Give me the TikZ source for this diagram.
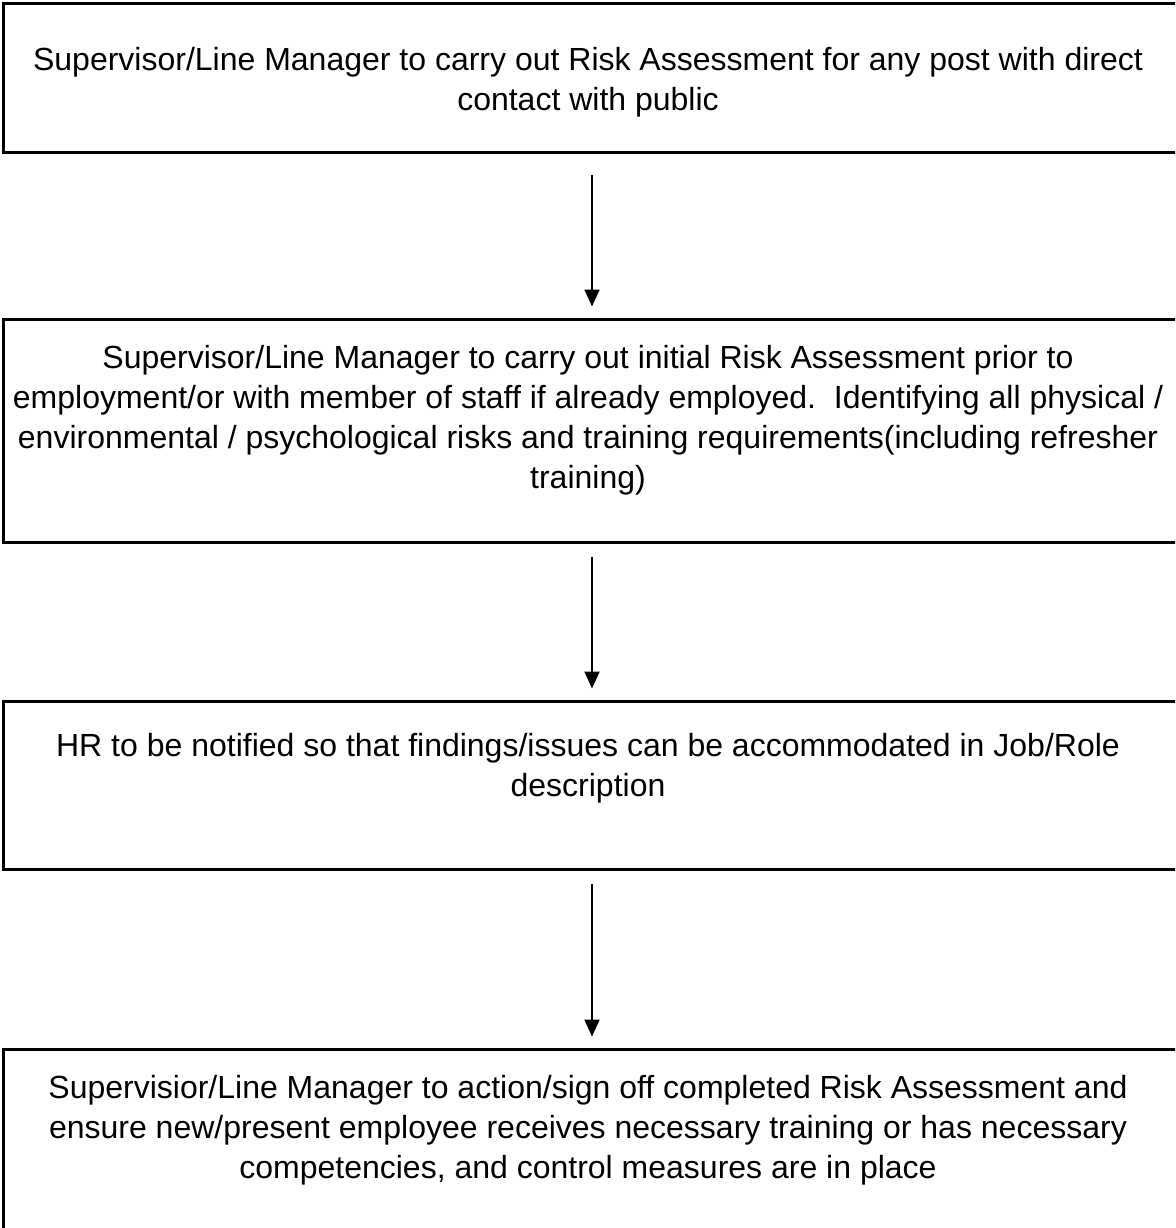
\documentclass[tikz,border=0pt]{standalone}
\usepackage{fontspec}
\setmainfont{Liberation Sans}
\usetikzlibrary{arrows.meta}
\tikzset{
  stepbox/.style={draw=black, line width=3pt, rectangle, inner sep=0pt, minimum width=1178pt},
  steptext/.style={align=center, inner sep=0pt, font=\fontsize{32}{40}\selectfont, text=black},
  flowarrow/.style={draw=black, line width=2pt, -{Triangle[width=15pt,length=17pt]}}
}
\begin{document}
\begin{tikzpicture}[x=1pt,y=-1pt]
\useasboundingbox (0,0) rectangle (1175,1228);
\clip (0,0) rectangle (1175,1228);
\fill[white] (0,0) rectangle (1175,1228);
% boxes
\node[stepbox, minimum height=148.5pt] (b1) at (592,78.25) {};
\node[stepbox, minimum height=222.5pt] (b2) at (592,430.75) {};
\node[stepbox, minimum height=168pt] (b3) at (592,785) {};
\node[stepbox, minimum height=191pt] (b4) at (592,1144.5) {};
% texts
\node[steptext] (t1) at (588,82) {Supervisor/Line Manager to carry out Risk Assessment for any post with direct\\contact with public};
\node[steptext] (t2) at (588,420) {Supervisor/Line Manager to carry out initial Risk Assessment prior to\\employment/or with member of staff if already employed.\ \ Identifying all physical /\\environmental / psychological risks and training requirements(including refresher\\training)};
\node[steptext] (t3) at (588,768) {HR to be notified so that findings/issues can be accommodated in Job/Role\\description};
\node[steptext] (t4) at (588,1130) {Supervisior/Line Manager to action/sign off completed Risk Assessment and\\ensure new/present employee receives necessary training or has necessary\\competencies, and control measures are in place};
% arrows
\draw[flowarrow] ([yshift=-20.5pt]b1.south) -- ([yshift=11.5pt]b2.north);
\draw[flowarrow] ([yshift=-13pt]b2.south) -- ([yshift=11pt]b3.north);
\draw[flowarrow] ([yshift=-13pt]b3.south) -- ([yshift=11pt]b4.north);
\end{tikzpicture}
\end{document}
